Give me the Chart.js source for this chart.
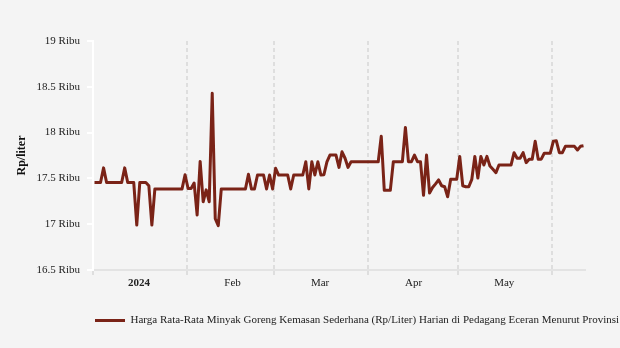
<!DOCTYPE html>
<html>
<head>
<meta charset="utf-8">
<title>Harga Minyak Goreng Kemasan Sederhana</title>
<script src="https://cdn.jsdelivr.net/npm/chart.js@4.4.1/dist/chart.umd.min.js"></script>
<style>
  html, body { margin: 0; padding: 0; background: #f4f4f4; }
</style>
</head>
<body>
<canvas id="chart" width="620" height="348"></canvas>
<script>
// daily average price (Rp/liter), one array per month of 2024
const jan = [17455, 17455, 17455, 17615, 17455, 17455, 17455, 17455, 17455, 17455,
             17615, 17455, 17455, 17455, 16990, 17455, 17455, 17455, 17420, 16990,
             17385, 17385, 17385, 17385, 17385, 17385, 17385, 17385, 17385, 17385,
             17540];
const feb = [17390, 17390, 17450, 17100, 17685, 17245, 17375, 17245, 18430, 17060,
             16985, 17385, 17385, 17385, 17385, 17385, 17385, 17385, 17385, 17385,
             17545, 17385, 17385, 17537, 17537, 17537, 17385, 17537, 17385];
const mar = [17610, 17537, 17537, 17537, 17537, 17385, 17537, 17537, 17537, 17537,
             17682, 17385, 17682, 17537, 17682, 17537, 17540, 17680, 17755, 17755,
             17755, 17620, 17790, 17720, 17620, 17682, 17682, 17682, 17682, 17682,
             17682];
const apr = [17682, 17682, 17682, 17682, 17960, 17370, 17370, 17370, 17682, 17682,
             17682, 17682, 18056, 17682, 17682, 17755, 17682, 17682, 17315, 17755,
             17340, 17400, 17440, 17483, 17420, 17409, 17300, 17490, 17490, 17490];
const may = [17740, 17420, 17409, 17409, 17490, 17740, 17504, 17740, 17646, 17740,
             17635, 17600, 17563, 17646, 17646, 17646, 17646, 17646, 17781, 17720,
             17720, 17781, 17672, 17710, 17710, 17905, 17710, 17710, 17775, 17775,
             17775];
const jun = [17905, 17910, 17781, 17781, 17850, 17850, 17850, 17850, 17810, 17850,
             17857];

const prices = [].concat(jan, feb, mar, apr, may, jun);

// x axis: day offsets of each month start and the label shown for that month
const monthStarts = [0, 31, 60, 91, 121, 152];
const monthLabels = ['2024', 'Feb', 'Mar', 'Apr', 'May', ''];

const yTicks = [16500, 17000, 17500, 18000, 18500, 19000];
const seriesName = 'Harga Rata-Rata Minyak Goreng Kemasan Sederhana (Rp/Liter) Harian di Pedagang Eceran Menurut Provinsi';

const lineColour = '#7a2317';
const serif = "'Liberation Serif', 'Times New Roman', serif";

// each day is plotted at its midday
const points = prices.map((v, i) => ({ x: i + 0.5, y: v }));

// the legend item starts under the plot and runs on to the canvas edge
const legendIndent = {
  id: 'legendIndent',
  afterLayout(chart) {
    chart.legend.left = 85;
    chart.legend.right = chart.width;
  }
};

new Chart(document.getElementById('chart'), {
  type: 'line',
  data: {
    datasets: [{
      label: seriesName,
      data: points,
      borderColor: lineColour,
      backgroundColor: lineColour,
      borderWidth: 3,
      borderJoinStyle: 'round',
      pointRadius: 0,
      pointBorderWidth: 3,
      pointBorderColor: lineColour,
      tension: 0,
      fill: false
    }]
  },
  options: {
    responsive: false,
    animation: false,
    events: [],
    layout: { padding: { top: 41, right: 35, bottom: 12, left: 0 } },
    plugins: {
      tooltip: { enabled: false },
      legend: {
        position: 'bottom',
        align: 'start',
        labels: {
          usePointStyle: true,
          pointStyle: 'line',
          pointStyleWidth: 30,
          padding: 10,
          color: '#222',
          font: { family: serif, size: 11 }
        }
      }
    },
    scales: {
      x: {
        type: 'linear',
        min: 0,
        max: 163,
        afterBuildTicks: (scale) => {
          scale.ticks = monthStarts.map((v) => ({ value: v }));
        },
        afterFit: (scale) => { scale.height = 35; },
        grid: {
          color: '#dedede',
          lineWidth: 2,
          tickBorderDash: [4, 3],
          tickLength: 5
        },
        border: { color: '#e3e3e3', width: 2, dash: [4, 3] },
        ticks: {
          autoSkip: false,
          maxRotation: 0,
          padding: 2,
          labelOffset: 46,
          color: '#222',
          font: (ctx) => ({ family: serif, size: 11, weight: ctx.index === 0 ? 'bold' : 'normal' }),
          callback: (value, index) => monthLabels[index]
        }
      },
      y: {
        min: yTicks[0],
        max: yTicks[yTicks.length - 1],
        afterBuildTicks: (scale) => {
          scale.ticks = yTicks.map((v) => ({ value: v }));
        },
        afterFit: (scale) => { scale.width = 93; },
        grid: {
          drawOnChartArea: false,
          tickLength: 6,
          color: '#ffffff',
          lineWidth: 2
        },
        border: { color: '#ffffff', width: 2 },
        ticks: {
          padding: 7,
          color: '#222',
          font: { family: serif, size: 11 },
          callback: (value) => (value / 1000) + ' Ribu'
        },
        title: {
          display: true,
          text: 'Rp/liter',
          color: '#111',
          font: { family: serif, size: 12, weight: 'bold' },
          padding: { top: 15, bottom: 0 }
        }
      }
    }
  },
  plugins: [legendIndent]
});
</script>
</body>
</html>
